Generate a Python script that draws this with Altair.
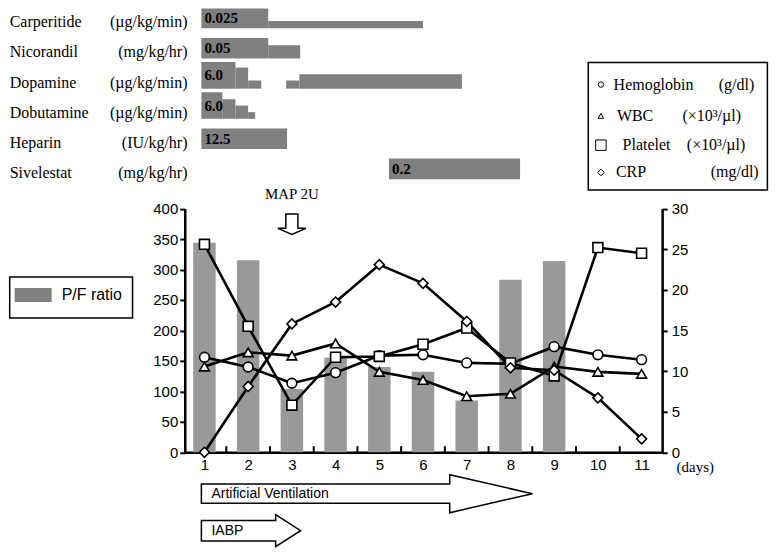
import altair as alt
import pandas as pd

# ---------------- data ----------------
days = list(range(1, 12))
pf_ratio = [344, 315, 104, 155, 140, 132, 85, 283, 314, None, None]
hemoglobin = [11.7, 10.5, 8.5, 9.8, 11.9, 12.0, 11.0, 10.9, 13.0, 12.0, 11.4]
wbc = [10.55, 12.3, 11.9, 13.4, 9.9, 8.9, 6.9, 7.2, 10.55, 9.9, 9.65]
platelet = [25.6, 15.5, 5.8, 11.7, 11.8, 13.3, 15.3, 11.0, 9.4, 25.2, 24.5]
crp = [0.0, 8.1, 15.8, 18.5, 23.1, 20.8, 16.1, 10.4, 10.1, 6.7, 1.65]

series_names = ["Hemoglobin", "WBC", "Platelet", "CRP"]
series_units = ["(g/dl)", "(×10³/µl)", "(×10³/µl)", "(mg/dl)"]

drug_names = ["Carperitide", "Nicorandil", "Dopamine", "Dobutamine", "Heparin", "Sivelestat"]
drug_units = ["(µg/kg/min)", "(mg/kg/hr)", "(µg/kg/min)", "(µg/kg/min)", "(IU/kg/hr)", "(mg/kg/hr)"]
drug_doses = ["0.025", "0.05", "6.0", "6.0", "12.5", "0.2"]
# infusion segments: drug index, start day, end day, relative rate
seg_drug = [0, 0, 1, 1, 2, 2, 2, 2, 2, 3, 3, 3, 3, 4, 5]
seg_start = [0.93, 2.46, 0.93, 2.46, 0.93, 1.71, 2.00, 2.87, 3.17, 0.93, 1.41, 1.71, 2.00, 0.93, 5.22]
seg_end = [2.46, 6.00, 2.46, 3.19, 1.71, 2.00, 2.30, 3.17, 6.89, 1.41, 1.71, 2.00, 2.16, 2.89, 8.22]
seg_rate = [0.66, 0.24, 0.68, 0.44, 0.88, 0.70, 0.27, 0.27, 0.48, 0.88, 0.65, 0.44, 0.22, 0.68, 0.68]

map_day = 3
map_label = "MAP 2U"
support_names = ["Artificial Ventilation", "IABP"]
support_start = [0.93, 0.93]
support_end = [8.5, 3.2]

# ---------------- layout ----------------
OX, OY = 183.3, 8.0          # page position of the plot origin
W, H = 478, 444.5
XDOM = [0.55, 11.47]
PXDAY = W / (XDOM[1] - XDOM[0])


def px(x):
    return x - OX


def py(y):
    return y - OY


SANS = "Liberation Sans"
SERIF = "Liberation Serif"

X = alt.Scale(domain=XDOM, nice=False, zero=False, padding=0)
XAX = alt.Axis(values=days, ticks=False, labelFontSize=15, labelFont=SANS, labelColor="black",
               labelPadding=5, labelAngle=0, domainColor="black", domainWidth=2.5, grid=False,
               title="(days)", titleX=px(694), titleY=14.5, titleAlign="center",
               titleBaseline="middle", titleFont=SERIF, titleFontSize=15,
               titleFontWeight="normal", titleColor="black")
LEFT = alt.Scale(domain=[0, 400], range=[py(452.5), py(208.5)], nice=False, zero=False, padding=0)
RIGHT = alt.Scale(domain=[0, 30], range=[py(452.5), py(208.5)], nice=False, zero=False, padding=0)
ROW = alt.Scale(domain=[1, 6], range=[20, 171], nice=False, zero=False, padding=0)
LAX = alt.Axis(orient="left", values=list(range(0, 401, 50)), tickSize=5, tickWidth=2,
               tickColor="black", domainColor="black", domainWidth=2.5, labelFontSize=15,
               labelFont=SANS, labelColor="black", labelPadding=2, grid=False, title=None)
RAX = alt.Axis(orient="right", values=list(range(0, 31, 5)), tickSize=5, tickWidth=2,
               tickColor="black", domainColor="black", domainWidth=2.5, labelFontSize=15,
               labelFont=SANS, labelColor="black", labelPadding=4, grid=False, title=None)

one = pd.DataFrame({"k": [0]})

# ---------------- left-axis layer (P/F ratio) ----------------
main = pd.DataFrame({"day": days, "pf": pf_ratio})
bars = alt.Chart(main).mark_bar(size=22.5, color="#999999").encode(
    x=alt.X("day:Q", scale=X, axis=XAX),
    y=alt.Y("pf:Q", scale=LEFT, axis=LAX),
)
bnd = pd.DataFrame({"b": [d + 0.5 for d in days[:-1]]})
bnd["lo"] = 0
bnd["hi"] = 10
inner_ticks = alt.Chart(bnd).mark_rule(color="black", strokeWidth=2).encode(
    x=alt.X("b:Q", scale=X, axis=XAX),
    y=alt.Y("lo:Q", scale=LEFT, axis=LAX),
    y2="hi:Q",
)
left_layer = alt.layer(bars, inner_ticks)

# ---------------- right-axis layer (lab values) ----------------
rows = []
for name, vals in zip(series_names, [hemoglobin, wbc, platelet, crp]):
    for d, v in zip(days, vals):
        rows.append({"day": d, "series": name, "value": v})
labs = pd.DataFrame(rows)
SHAPES = ["circle", "triangle-up", "square", "diamond"]
lines = alt.Chart(labs).mark_line(color="black", strokeWidth=2.6).encode(
    x=alt.X("day:Q", scale=X, axis=XAX),
    y=alt.Y("value:Q", scale=RIGHT, axis=RAX),
    detail="series:N",
)
pts = alt.Chart(labs).mark_point(filled=True, fill="white", stroke="black",
                                 strokeWidth=1.6, opacity=1).encode(
    x=alt.X("day:Q", scale=X, axis=XAX),
    y=alt.Y("value:Q", scale=RIGHT, axis=RAX),
    shape=alt.Shape("series:N", scale=alt.Scale(domain=series_names, range=SHAPES), legend=None),
    size=alt.Size("series:N", scale=alt.Scale(domain=series_names, range=[95, 100, 100, 125]),
                  legend=None),
)
right_layer = alt.layer(lines, pts)

# ---------------- drug infusion layer ----------------
seg = pd.DataFrame({"row": [i + 1 for i in seg_drug], "start": seg_start,
                    "end": seg_end, "rate": seg_rate})
seg["top"] = seg["row"] - seg["rate"]
rects = alt.Chart(seg).mark_rect(color="#808080").encode(
    x=alt.X("start:Q", scale=X, axis=XAX), x2="end:Q",
    y=alt.Y("top:Q", scale=ROW, axis=None), y2="row:Q",
)
first = seg.groupby("row", as_index=False).first()
first["mid"] = first["row"] - first["rate"] / 2
first["dose"] = drug_doses
dose_text = alt.Chart(first).mark_text(align="left", baseline="middle", dx=3, font=SERIF,
                                       fontSize=15, fontWeight="bold", color="black").encode(
    x=alt.X("start:Q", scale=X, axis=XAX),
    y=alt.Y("mid:Q", scale=ROW, axis=None),
    text="dose:N",
)
drugs = pd.DataFrame({"row": list(range(1, 7)), "name": drug_names, "unit": drug_units})
name_text = alt.Chart(drugs).mark_text(align="left", baseline="alphabetic", dy=-1, font=SERIF,
                                       fontSize=16, color="black").encode(
    x=alt.value(px(8)), y=alt.Y("row:Q", scale=ROW, axis=None), text="name:N")
unit_text = alt.Chart(drugs).mark_text(align="right", baseline="alphabetic", dy=-1, font=SERIF,
                                       fontSize=16, color="black").encode(
    x=alt.value(px(186)), y=alt.Y("row:Q", scale=ROW, axis=None), text="unit:N")
drug_layer = alt.layer(rects, dose_text, name_text, unit_text)

# ---------------- annotations ----------------
ann = []


def box(x1, x2, y1, y2, fill="white", stroke="black", sw=1.5):
    return alt.Chart(one).mark_rect(fill=fill, stroke=stroke, strokeWidth=sw).encode(
        x=alt.value(px(x1)), x2=alt.value(px(x2)), y=alt.value(py(y1)), y2=alt.value(py(y2)))


def label(txt, x, y, font=SERIF, size=16, align="left"):
    return alt.Chart(one).mark_text(text=txt, align=align, baseline="middle", font=font,
                                    fontSize=size, color="black").encode(
        x=alt.value(px(x)), y=alt.value(py(y)))


# lab legend
ann.append(box(587.3, 766.7, 62.3, 190))
leg_y = [84.3, 115.7, 145, 172.3]
leg_size = [30, 30, 110, 45]
name_x = [612.7, 616, 621.7, 615]
unit_x = [718, 681.7, 686, 710]
for i in range(4):
    ann.append(alt.Chart(one).mark_point(shape=SHAPES[i], size=leg_size[i], filled=True,
                                         fill="white", stroke="black", strokeWidth=1,
                                         opacity=1).encode(
        x=alt.value(px(600)), y=alt.value(py(leg_y[i]))))
    ann.append(label(series_names[i], name_x[i], leg_y[i]))
    ann.append(label(series_units[i], unit_x[i], leg_y[i]))

# P/F legend
ann.append(box(8, 131, 277, 318))
ann.append(box(13, 50, 288, 302, fill="#808080", stroke="#808080", sw=0))
ann.append(label("P/F ratio", 60, 295, font=SANS, size=16))

# MAP arrow
map_df = pd.DataFrame({"day": [map_day], "label": [map_label]})
down_arrow = "M-0.43,-0.714L0.43,-0.714L0.43,0.307L1,0.307L0,0.736L-1,0.307L-0.43,0.307Z"
ann.append(alt.Chart(map_df).mark_point(shape=down_arrow, size=784, filled=True, fill="white",
                                        stroke="black", strokeWidth=1.5, opacity=1).encode(
    x=alt.X("day:Q", scale=X, axis=XAX), y=alt.value(py(224))))
ann.append(alt.Chart(map_df).mark_text(align="center", baseline="middle", font=SERIF,
                                       fontSize=15, color="black").encode(
    x=alt.X("day:Q", scale=X, axis=XAX), y=alt.value(py(194)), text="label:N"))


def right_arrow(width, hb, hh, hl):
    s = width / 2
    xh = 1 - hl / s
    return (f"M-1,{-hb/s:.4f}L{xh:.4f},{-hb/s:.4f}L{xh:.4f},{-hh/s:.4f}L1,0"
            f"L{xh:.4f},{hh/s:.4f}L{xh:.4f},{hb/s:.4f}L-1,{hb/s:.4f}Z")


arrow_y = [494, 531]
arrow_geom = [(9.65, 19, 82.7), (10.3, 16, 25)]
for i in range(2):
    w = (support_end[i] - support_start[i]) * PXDAY
    hb, hh, hl = arrow_geom[i]
    sdf = pd.DataFrame({"mid": [(support_start[i] + support_end[i]) / 2]})
    ann.append(alt.Chart(sdf).mark_point(shape=right_arrow(w, hb, hh, hl), size=w * w,
                                         filled=True, fill="white", stroke="black",
                                         strokeWidth=1.5, opacity=1).encode(
        x=alt.X("mid:Q", scale=X, axis=XAX), y=alt.value(py(arrow_y[i]))))
    ann.append(label(support_names[i], 210, arrow_y[i], font=SANS, size=14))

annot_layer = alt.layer(*ann)

chart = alt.layer(left_layer, right_layer, drug_layer, annot_layer).resolve_scale(
    y="independent"
).properties(width=W, height=H, padding=0, background="white").configure_view(
    stroke=None, strokeWidth=0)

chart.save("out.html", embed_options={"renderer": "svg", "actions": False})
